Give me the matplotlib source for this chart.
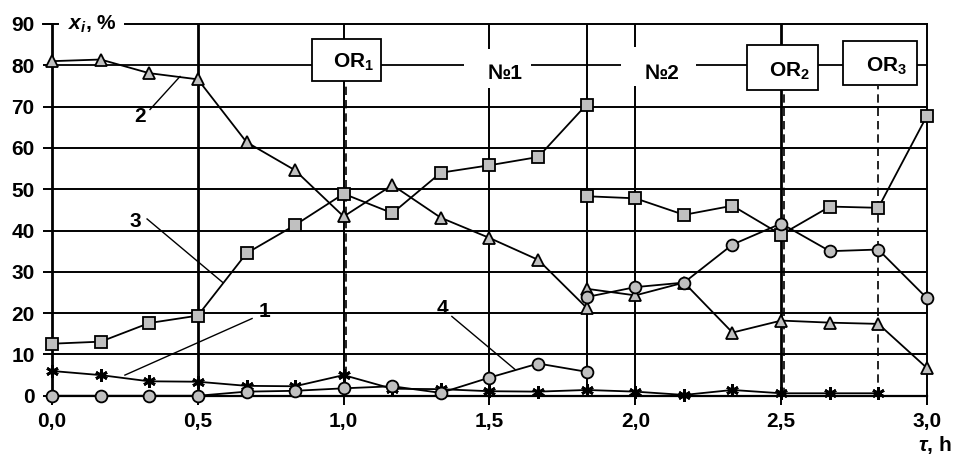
import matplotlib.pyplot as plt
from matplotlib.patches import Rectangle

plt.rcParams['font.family'] = ['Liberation Sans', 'DejaVu Sans']
plt.rcParams['font.weight'] = 'bold'
plt.rcParams['mathtext.fontset'] = 'custom'
plt.rcParams['mathtext.rm'] = 'Liberation Sans:bold'
plt.rcParams['mathtext.bf'] = 'Liberation Sans:bold'
plt.rcParams['mathtext.it'] = 'Liberation Sans:bold:italic'

# time, h (two runs: before and after the catalyst change at 1.833 h)
t_run1 = [0.0, 0.167, 0.333, 0.5, 0.667, 0.833, 1.0, 1.167, 1.333, 1.5, 1.667, 1.833]
t_run2 = [1.833, 2.0, 2.167, 2.333, 2.5, 2.667, 2.833, 3.0]

# curve 1 (asterisks), continuous up to 2.833 h
t_c1 = [0.0, 0.167, 0.333, 0.5, 0.667, 0.833, 1.0, 1.167, 1.333, 1.5, 1.667, 1.833,
        2.0, 2.167, 2.333, 2.5, 2.667, 2.833]
x1 = [6.0, 5.0, 3.5, 3.4, 2.4, 2.3, 5.0, 1.7, 1.6, 1.1, 1.0, 1.4,
      1.0, 0.2, 1.4, 0.6, 0.6, 0.6]

# curve 2 (triangles)
x2_run1 = [81.0, 81.4, 78.1, 76.6, 61.4, 54.6, 43.4, 51.0, 43.1, 38.2, 32.9, 21.3]
x2_run2 = [25.9, 24.3, 27.4, 15.3, 18.2, 17.7, 17.4, 6.7]

# curve 3 (squares)
x3_run1 = [12.6, 13.1, 17.6, 19.4, 34.5, 41.3, 48.9, 44.2, 54.0, 55.8, 57.8, 70.5]
x3_run2 = [48.3, 47.8, 43.8, 46.0, 39.0, 45.8, 45.5, 67.8]

# curve 4 (circles)
x4_run1 = [0.0, 0.0, 0.0, 0.0, 1.0, 1.2, 1.8, 2.3, 0.7, 4.4, 7.8, 5.8]
x4_run2 = [23.9, 26.3, 27.4, 36.6, 41.7, 35.0, 35.4, 23.6]

x_ticks = [0.0, 0.5, 1.0, 1.5, 2.0, 2.5, 3.0]
x_ticklabels = ['0,0', '0,5', '1,0', '1,5', '2,0', '2,5', '3,0']
y_ticks = [0, 10, 20, 30, 40, 50, 60, 70, 80, 90]

FS = 15
GRAY = '#c0c0c0'

fig = plt.figure(figsize=(9.54, 4.57), dpi=100)
ax = fig.add_axes([0.0545, 0.134, 0.9172, 0.8135])
ax.set_xlim(0, 3.0)
ax.set_ylim(0, 90)

# frame
ax.spines['top'].set_visible(False)
ax.spines['left'].set_linewidth(2.0)
ax.spines['bottom'].set_linewidth(1.6)
ax.spines['right'].set_linewidth(1.4)

ax.set_xticks(x_ticks)
ax.set_xticklabels(x_ticklabels)
ax.set_yticks(y_ticks)
ax.tick_params(axis='both', direction='out', length=6.5, width=1.4,
               labelsize=FS, colors='black')
ax.tick_params(axis='x', pad=5)
ax.tick_params(axis='y', pad=6)
for lab in ax.get_xticklabels() + ax.get_yticklabels():
    lab.set_fontweight('bold')

# horizontal grid
for yv in y_ticks[1:-2]:
    ax.axhline(yv, color='black', lw=1.4, zorder=1)
ax.plot([0.25, 3.0], [90, 90], color='black', lw=1.4, zorder=1, clip_on=False)
ax.plot([-0.03, 0.02], [90, 90], color='black', lw=1.4, zorder=1, clip_on=False)

# vertical lines
ax.axvline(0.5, color='black', lw=2.0, zorder=1)
for xv in [1.0, 1.5, 1.833, 2.0]:
    ax.axvline(xv, color='black', lw=1.4, zorder=1)
ax.axvline(2.5, color='black', lw=2.0, zorder=1)
ax.plot([1.008, 1.008], [5, 76], color='black', lw=1.2, ls=(0, (5, 3)), zorder=1)
ax.plot([2.508, 2.508], [0, 74], color='black', lw=1.2, ls=(0, (5, 3)), zorder=1)
ax.plot([2.832, 2.832], [0, 75], color='black', lw=1.2, ls=(0, (5, 3)), zorder=1)

# data
mk = dict(markerfacecolor=GRAY, markeredgecolor='black', markeredgewidth=1.3,
          color='black', lw=1.3, clip_on=False, zorder=4)
ax.plot(t_c1, x1, marker=(6, 2, 0), markersize=9, markeredgewidth=2.0,
        color='black', lw=1.3, clip_on=False, zorder=4)
ax.plot(t_run1, x2_run1, marker='^', markersize=9, **mk)
ax.plot(t_run2, x2_run2, marker='^', markersize=9, **mk)
ax.plot(t_run1, x3_run1, marker='s', markersize=8, **mk)
ax.plot(t_run2, x3_run2, marker='s', markersize=8, **mk)
ax.plot(t_run1, x4_run1, marker='o', markersize=8.5, **mk)
ax.plot(t_run2, x4_run2, marker='o', markersize=8.5, **mk)

# curve labels with leader lines
lead = dict(color='black', lw=1.0, zorder=3)
ax.plot([0.336, 0.439], [69.3, 77.3], **lead)
ax.text(0.302, 67.6, '2', fontsize=FS, fontweight='bold', ha='center', va='center')
ax.plot([0.326, 0.586], [42.8, 27.4], **lead)
ax.text(0.285, 42.3, '3', fontsize=FS, fontweight='bold', ha='center', va='center')
ax.plot([0.686, 0.250], [18.7, 5.0], **lead)
ax.text(0.730, 20.4, '1', fontsize=FS, fontweight='bold', ha='center', va='center')
ax.plot([1.371, 1.587], [19.2, 6.4], **lead)
ax.text(1.337, 21.2, '4', fontsize=FS, fontweight='bold', ha='center', va='center')

# run labels on the 80 % line
ax.plot([0, 3.0], [80, 80], color='black', lw=1.3, zorder=1)
for x0, x1b, y0, y1b in [(1.412, 1.642, 74.4, 84.0), (1.951, 2.208, 74.9, 84.5)]:
    ax.add_patch(Rectangle((x0, y0), x1b - x0, y1b - y0, facecolor='white',
                           edgecolor='none', zorder=2))
ax.text(1.553, 78.0, '№1', fontsize=FS, fontweight='bold', ha='center', va='center', zorder=5)
ax.text(2.091, 78.0, '№2', fontsize=FS, fontweight='bold', ha='center', va='center', zorder=5)

boxes = [((0.891, 76.3), 0.237, 10.1, 1.035, 80.7, r'$\mathrm{OR}_1$'),
         ((2.383, 74.1), 0.243, 10.9, 2.527, 78.5, r'$\mathrm{OR}_2$'),
         ((2.712, 75.3), 0.253, 10.7, 2.862, 79.7, r'$\mathrm{OR}_3$')]
for (bx, by), bw, bh, tx, ty, s in boxes:
    ax.add_patch(Rectangle((bx, by), bw, bh, facecolor='white', edgecolor='black',
                           lw=1.3, zorder=5, clip_on=False))
    ax.text(tx, ty, s, fontsize=FS, ha='center', va='center', zorder=6)

# axis titles
ax.text(0.055, 90, r'$x_i$, %', fontsize=FS, ha='left', va='center', zorder=6)
ax.text(3.027, -12.0, r'$\tau$, h', fontsize=FS, ha='center', va='center')

plt.savefig('out.png', dpi=100)
